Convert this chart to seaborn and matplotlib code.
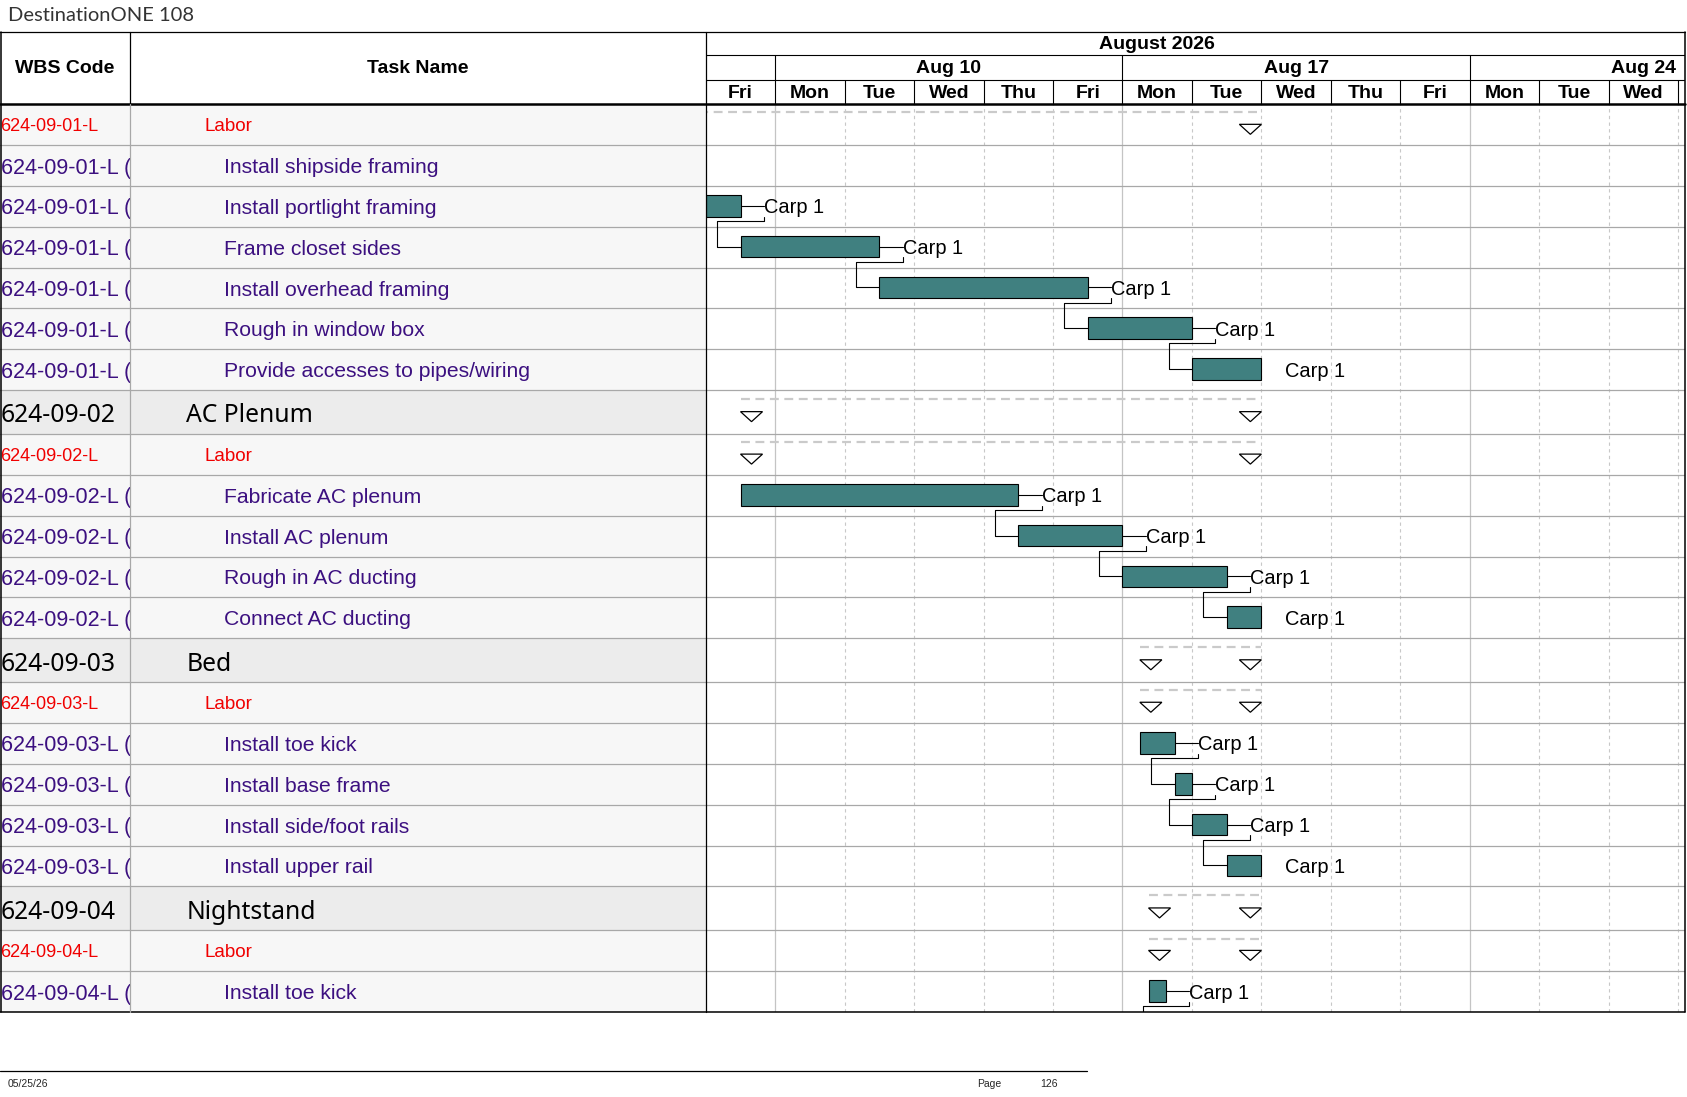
import numpy as np
import matplotlib
matplotlib.use('Agg')
import matplotlib.pyplot as plt
from matplotlib.lines import Line2D
import seaborn as sns

# ---- data ----
title = 'DestinationONE 108'
wbs_codes = ['624-09-01-L', '624-09-01-L (01)', '624-09-01-L (02)', '624-09-01-L (03)',
             '624-09-01-L (04)', '624-09-01-L (05)', '624-09-01-L (06)',
             '624-09-02', '624-09-02-L', '624-09-02-L (01)', '624-09-02-L (02)',
             '624-09-02-L (03)', '624-09-02-L (04)',
             '624-09-03', '624-09-03-L', '624-09-03-L (01)', '624-09-03-L (02)',
             '624-09-03-L (03)', '624-09-03-L (04)',
             '624-09-04', '624-09-04-L', '624-09-04-L (01)']
task_names = ['Labor', 'Install shipside framing', 'Install portlight framing',
              'Frame closet sides', 'Install overhead framing', 'Rough in window box',
              'Provide accesses to pipes/wiring',
              'AC Plenum', 'Labor', 'Fabricate AC plenum', 'Install AC plenum',
              'Rough in AC ducting', 'Connect AC ducting',
              'Bed', 'Labor', 'Install toe kick', 'Install base frame',
              'Install side/foot rails', 'Install upper rail',
              'Nightstand', 'Labor', 'Install toe kick']
row_types = ['labor', 'task', 'task', 'task', 'task', 'task', 'task',
             'group', 'labor', 'task', 'task', 'task', 'task',
             'group', 'labor', 'task', 'task', 'task', 'task',
             'group', 'labor', 'task']
# working days counted from Fri Aug 7 (weekends are hidden in the timescale)
starts = [-3.0, -3.0, 0.0, 0.5, 2.5, 5.5, 7.0,
          0.5, 0.5, 0.5, 4.5, 6.0, 7.5,
          6.25, 6.25, 6.25, 6.75, 7.0, 7.5,
          6.375, 6.375, 6.375]
finishes = [8.0, -2.0, 0.5, 2.5, 5.5, 7.0, 8.0,
            8.0, 8.0, 4.5, 6.0, 7.5, 8.0,
            8.0, 8.0, 6.75, 7.0, 7.5, 8.0,
            8.0, 8.0, 6.625]
successors = [None, 2, 3, 4, 5, 6, None,
              None, None, 10, 11, 12, None,
              None, None, 16, 17, 18, None,
              None, None, 'next']
resource = 'Carp 1'
next_page_start = 6.625

day_names = ['Fri', 'Mon', 'Tue', 'Wed', 'Thu', 'Fri', 'Mon', 'Tue', 'Wed', 'Thu',
             'Fri', 'Mon', 'Tue', 'Wed', 'Thu']
week_labels = ['Aug 3', 'Aug 10', 'Aug 17', 'Aug 24']
week_starts = [-4, 1, 6, 11]
month_label = 'August 2026'
month_span = (-4, 17)
footer_date = '05/25/26'
page_no = '126'

# ---- style ----
sns.set_theme(style='white')
plt.rcParams['font.family'] = ['Liberation Sans', 'DejaVu Sans']

teal = '#408080'
red = '#f00000'
purple = '#3c1080'
grid_gray = '#a8a8a8'

W, H = 1568, 1020          # layout grid of the page


def fx(x):
    return x / W


def fy(y):
    return 1 - y / H


fig = plt.figure(figsize=(16.87, 10.97), dpi=100)
fig.patch.set_facecolor('white')

heights = np.array([41 / 38 if t == 'group' else 1.0 for t in row_types])
tops = np.concatenate([[0], np.cumsum(heights)[:-1]])
total = heights.sum()

body_top, body_bot = 97, 941
col1, col2, right = 121, 656, 1566
day_px = 64.55
xmax = (right - col2) / day_px


def add_ax(x0, y0, x1, y1):
    ax = fig.add_axes([fx(x0), fy(y1), fx(x1) - fx(x0), fy(y0) - fy(y1)])
    ax.set_axis_off()
    return ax


ax_w = add_ax(0, body_top, col1, body_bot)
ax_t = add_ax(col1, body_top, col2, body_bot)
ax_g = add_ax(col2, body_top, right, body_bot)
ax_h = add_ax(col2, 30, right, body_top)
ax_lh = add_ax(0, 30, col2, body_top)

ax_w.set_xlim(0, col1)
ax_t.set_xlim(0, col2 - col1)
ax_g.set_xlim(0, xmax)
ax_h.set_xlim(0, xmax)
for ax in (ax_w, ax_t, ax_g):
    ax.set_ylim(total, 0)
ax_h.set_ylim(67, 0)
ax_lh.set_xlim(0, col2)
ax_lh.set_ylim(67, 0)

# ---- table rows ----
for i, kind in enumerate(row_types):
    t, h = tops[i], heights[i]
    cy = t + h / 2
    fc = '#ececec' if kind == 'group' else '#f7f7f7'
    for ax in (ax_w, ax_t):
        ax.axhspan(t, t + h, color=fc, lw=0, zorder=0)
    for ax in (ax_w, ax_t, ax_g):
        ax.axhline(t + h, color=grid_gray, lw=0.9, zorder=1)
    if kind == 'group':
        ax_w.text(0.5, cy + 0.02, wbs_codes[i], fontsize=17.8, family=['Noto Sans'],
                  color='black', va='center_baseline', clip_on=True)
        ax_t.text(52, cy + 0.02, task_names[i], fontsize=17.8, family=['Noto Sans'],
                  color='black', va='center_baseline')
    elif kind == 'labor':
        ax_w.text(0.5, cy, wbs_codes[i], fontsize=13, color=red,
                  va='center_baseline', clip_on=True)
        ax_t.text(69, cy, task_names[i], fontsize=13.6, color=red,
                  va='center_baseline')
    else:
        ax_w.text(0.5, cy, wbs_codes[i], fontsize=15.5, color=purple,
                  va='center_baseline', clip_on=True)
        ax_t.text(87, cy, task_names[i], fontsize=15.2, color=purple,
                  va='center_baseline')

# ---- gantt grid ----
for d in range(1, int(xmax) + 1):
    if d in week_starts:
        ax_g.axvline(d, color='#c4c4c4', lw=0.9, zorder=0.5)
    else:
        ax_g.axvline(d, color='#c8c8c8', lw=0.8, ls=(0, (3, 3)), zorder=0.5)

# ---- bars, summaries, links ----
bar_h, bar_off = 0.53, 0.486
lag = 0.335
tri_w, tri_h = 0.317, 0.245

for i, kind in enumerate(row_types):
    t, h = tops[i], heights[i]
    s, f = starts[i], finishes[i]
    if kind == 'task':
        ax_g.barh(t + bar_off, f - s, left=s, height=bar_h, color=teal,
                  edgecolor='black', lw=0.8, zorder=3)
        if f + lag > 0:
            ax_g.text(f + lag, t + bar_off, resource, fontsize=14.4, color='black',
                      va='center_baseline', clip_on=True, zorder=4)
    else:
        ax_g.plot([s, f], [t + 0.2 * h] * 2, color='#cacaca', lw=1.6,
                  ls=(0, (4, 2.5)), zorder=2)
        y0 = t + 0.49 * h
        for x0 in (s, f - tri_w):
            ax_g.fill([x0, x0 + tri_w, x0 + tri_w / 2], [y0, y0, y0 + tri_h],
                      facecolor='white', edgecolor='black', lw=0.9, zorder=4)

for i, j in enumerate(successors):
    if j is None:
        continue
    pe, pc = finishes[i], tops[i] + bar_off
    if j == 'next':
        ss, st = next_page_start, total
    else:
        ss, st = starts[j], tops[j]
    sc = st + bar_off
    gap = tops[i] + 0.857
    ax_g.plot([pe, pe + lag], [pc, pc], color='black', lw=0.8, zorder=2)
    ax_g.plot([pe + lag, pe + lag, ss - lag, ss - lag, ss],
              [pc + bar_h / 2, gap, gap, sc, sc], color='black', lw=0.8, zorder=2)

# ---- timescale header ----
hdr = dict(ha='center', va='center', fontweight='bold', fontsize=14, color='black')
ax_h.text((month_span[0] + month_span[1]) / 2, 11.5, month_label, **hdr)
ax_h.axhline(21, color='black', lw=0.8)
ax_h.axhline(44, color='black', lw=0.8)
for lab, ws in zip(week_labels, week_starts):
    if 0 < ws + 2.5 < xmax:
        ax_h.text(ws + 2.5, 33.5, lab, clip_on=True, **hdr)
    if ws > 0:
        ax_h.vlines(ws, 21, 44, color='black', lw=0.8)
for k, dn in enumerate(day_names):
    if k + 0.5 < xmax:
        ax_h.text(k + 0.5, 56.5, dn, clip_on=True, **hdr)
    if k > 0:
        ax_h.vlines(k, 44, 67, color='black', lw=0.8)

ax_lh.text(col1 / 2, 33.5, 'WBS Code', **hdr)
ax_lh.text((col1 + col2) / 2, 33.5, 'Task Name', **hdr)


# ---- frame lines ----
def fig_line(xs, ys, color='black', lw=0.9):
    fig.add_artist(Line2D([fx(x) for x in xs], [fy(y) for y in ys],
                          color=color, lw=lw, transform=fig.transFigure))


fig_line([0, right], [30, 30])
fig_line([0, right], [body_top, body_top], lw=1.8)
fig_line([0, right], [body_bot, body_bot], lw=1.1)
fig_line([0.6, 0.6], [30, body_bot], lw=1.1)
fig_line([col1, col1], [30, body_top])
fig_line([col1, col1], [body_top, body_bot], color=grid_gray)
fig_line([col2, col2], [30, body_bot])
fig_line([right, right], [30, body_bot], lw=1.1)

# ---- page title and footer ----
fig.text(fx(7), fy(14), title, fontsize=14.5, family=['Lato', 'DejaVu Sans'],
         va='center', color='#333333')
fig_line([0, 1010], [996, 996])
foot = dict(fontsize=7.5, va='center', family=['Liberation Sans Narrow', 'Liberation Sans'])
fig.text(fx(7), fy(1008), footer_date, **foot)
fig.text(fx(908), fy(1008), 'Page', **foot)
fig.text(fx(967), fy(1008), page_no, **foot)

fig.savefig('out.png', dpi=100, facecolor='white')
